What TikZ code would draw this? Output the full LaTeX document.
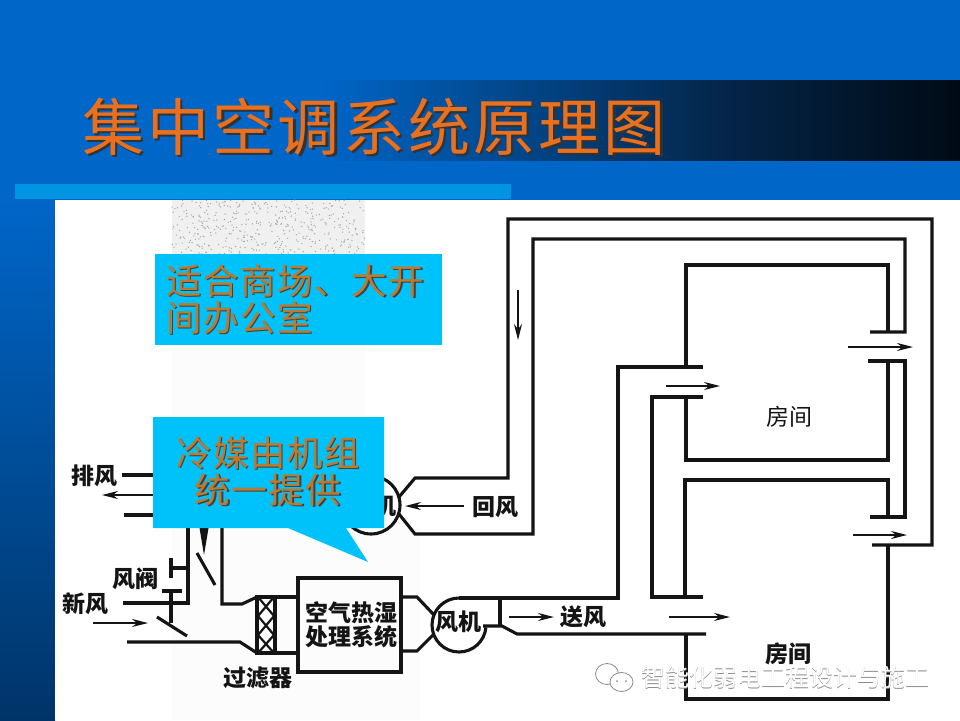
\documentclass[tikz,border=0pt]{standalone}
\usepackage{fontspec}
\usepackage{xcolor}
\usepackage{tikz}
\usetikzlibrary{arrows.meta}
\newfontfamily\cjk{Noto Sans CJK SC}
\newfontfamily\cjktitle[LetterSpace=5.2]{Noto Sans CJK SC}
\newfontfamily\cjkcall[LetterSpace=4.5]{Noto Sans CJK SC}
\definecolor{slideblue}{HTML}{0066C8}
\definecolor{slidedark}{HTML}{003468}
\definecolor{banddark}{HTML}{04264A}
\definecolor{bandend}{HTML}{000A14}
\definecolor{stripblue}{HTML}{0095E2}
\definecolor{callcyan}{HTML}{00C2FA}
\definecolor{callorange}{HTML}{BC7A30}
\definecolor{titleorange}{HTML}{E8701E}
\definecolor{inkline}{HTML}{141414}
\newcommand{\dropshade}[4]{\rlap{\raisebox{-#2}{\hspace{#2}\textcolor{#1}{#4}}}\textcolor{#3}{#4}}

\begin{document}
\begin{tikzpicture}[
  x=1pt, y=-1pt,
  duct/.style = {draw=inkline, line width=3.1pt, line join=miter},
  hatch/.style = {draw=inkline, line width=2.2pt},
  flow/.style = {draw=inkline, line width=1.7pt, -{Stealth[length=16pt, width=8pt]}},
  label/.style = {font=\cjk\fontsize{23}{24}\selectfont\bfseries, text=inkline, inner sep=0pt},
  roomlabel/.style = {font=\cjk\fontsize{23}{24}\selectfont, text=inkline, inner sep=0pt},
  callout/.style = {fill=callcyan, draw=none},
  calltext/.style = {font=\cjkcall\fontsize{35.5}{37}\selectfont, inner sep=0pt},
]
\useasboundingbox (0,0) rectangle (960,720);

% slide
\fill[slideblue] (0,0) rectangle (960,720);
\fill[bottom color=slidedark, top color=slideblue] (0,200) rectangle (55,720);
\fill[left color=slideblue, right color=banddark] (320,80) rectangle (720,160);
\fill[left color=banddark, right color=bandend] (720,80) rectangle (960,160);
\fill[stripblue] (15,184) rectangle (511,199);
\fill[white] (55,200) rectangle (960,720);

% scan noise
\fill[black!6] (172,200) rectangle (365,254);
\fill[black!1] (172,345) rectangle (365,417);
\fill[black!1] (172,528) rectangle (420,720);
\pgfmathsetseed{7}
\foreach \i in {1,...,420} {
  \fill[black!35] ({172+193*rnd},{200+54*rnd}) circle (0.7);
}

% title
\node[font=\cjktitle\fontsize{62}{62}\selectfont, inner sep=0pt, anchor=west] (title) at (82,128)
  {\dropshade{black!80}{2.5pt}{titleorange}{集中空调系统原理图}};

% return duct
\draw[duct] (399,497) -- (415,478) -- (508,478) -- (508,219) -- (932,219) -- (932,545) -- (872,545);
\draw[duct] (399,514) -- (415,534) -- (533,534) -- (533,239) -- (905,239) -- (905,332) -- (870,332);
\draw[duct] (868,361) -- (905,361) -- (905,517) -- (870,517);

% rooms
\draw[duct] (888,332) -- (888,265) -- (686,265) -- (686,367);
\draw[duct] (686,397) -- (686,460) -- (888,460) -- (888,361);
\draw[duct] (888,517) -- (888,480) -- (685,480) -- (685,597);
\draw[duct] (686,635) -- (686,699) -- (888,699) -- (888,545);

% supply duct
\draw[duct] (459,598) -- (618,598) -- (618,367) -- (703,367);
\draw[duct] (703,397) -- (652,397) -- (652,597) -- (703,597);
\draw[duct] (483,626) -- (502,626) -- (517,634) -- (706,634);
\draw[duct] (500,598) -- (500,626);

% fans
\draw[duct] (371,505) circle (29);
\draw[duct] (459,598) arc (270:5:27);
\draw[duct] (401,597) -- (417,597) -- (434,615);
\draw[duct] (401,651) -- (417,651) -- (433,635);

% air handling box and filter
\draw[duct] (298,578) rectangle (401,672);
\draw[duct] (257,597) rectangle (275,653);
\draw[hatch] (258,597) -- (274,616) -- (258,635) -- (274,653);
\draw[hatch] (274,597) -- (258,616) -- (274,635) -- (258,653);
\draw[duct] (275,597) -- (298,597);
\draw[duct] (275,653) -- (298,653);

% fresh air and exhaust
\draw[duct] (222,520) -- (222,604) -- (242,604) -- (257,597);
\draw[duct] (127,642) -- (240,642) -- (257,653);
\draw[duct] (123,603) -- (188,603) -- (188,520);
\draw[duct] (122,475) -- (160,475);
\draw[duct] (124,515) -- (160,515);

% dampers
\draw[duct] (162,591) -- (182,591);
\draw[duct] (171,591) -- (171,623);
\draw[duct] (157,617) -- (187,636);
\draw[duct] (171,558) -- (171,578);
\draw[duct] (171,568) -- (188,568);
\draw[duct] (197,553) -- (215,585);
\fill[inkline] (199,525) -- (209,525) -- (204,555) -- cycle;

% flow arrows
\draw[flow] (160,495) -- (102,495);
\draw[flow] (93,623) -- (148,623);
\draw[flow] (464,506) -- (405,506);
\draw[flow] (509,617) -- (554,617);
\draw[flow] (518,290) -- (518,340);
\draw[flow] (666,386) -- (720,386);
\draw[flow] (669,617) -- (730,617);
\draw[flow] (848,347) -- (913,347);
\draw[flow] (853,535) -- (907,535);

% labels
\node[label] (exhaustlabel) at (94,476) {排风};
\node[label] (damperlabel) at (135,579) {风阀};
\node[label] (freshlabel) at (85,604) {新风};
\node[label] (filterlabel) at (258,678) {过滤器};
\node[label] (returnfan) at (373,506) {风机};
\node[label] (returnlabel) at (495,507) {回风};
\node[label] (supplyfan) at (458,622) {风机};
\node[label] (supplylabel) at (583,617) {送风};
\node[label, align=center] (ahulabel) at (351,625) {空气热湿\\处理系统};
\node[roomlabel] (roomone) at (789,417) {房间};
\node[label] (roomtwo) at (788,654) {房间};

% callouts
\fill[callout] (155,254) rectangle (442,345);
\fill[callout] (153,417) -- (384,417) -- (384,528) -- (346,528) -- (368,562) -- (288,528) -- (153,528) -- cycle;
\node[calltext, align=left, anchor=north west] (storetext) at (166,264)
  {\dropshade{black!75}{1.5pt}{callorange}{适合商场、大开}\\\dropshade{black!75}{1.5pt}{callorange}{间办公室}};
\node[calltext, align=center] (chilltext) at (268,472)
  {\dropshade{black!75}{1.5pt}{callorange}{冷媒由机组}\\\dropshade{black!75}{1.5pt}{callorange}{统一提供}};

% watermark
\node[font=\cjk\fontsize{24}{24}\selectfont, inner sep=0pt] (mark) at (785,678)
  {\dropshade{black!45}{0.8pt}{white}{智能化弱电工程设计与施工}};
\draw[black!45, line width=0.8pt] (607,674) ellipse (11.5 and 10.5);
\draw[black!45, line width=0.8pt, fill=white] (621.5,682) ellipse (11.5 and 9.5);
\fill[black!45] (617,681) circle (1) (626,681) circle (1);
\end{tikzpicture}
\end{document}
